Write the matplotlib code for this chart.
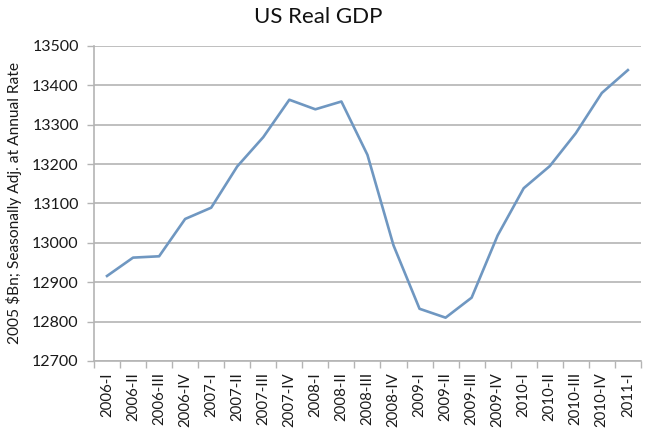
import matplotlib
matplotlib.use('Agg')
import matplotlib.pyplot as plt
import numpy as np

# US real GDP, 2005 $bn, seasonally adjusted annual rate
quarters = ['2006-I', '2006-II', '2006-III', '2006-IV',
            '2007-I', '2007-II', '2007-III', '2007-IV',
            '2008-I', '2008-II', '2008-III', '2008-IV',
            '2009-I', '2009-II', '2009-III', '2009-IV',
            '2010-I', '2010-II', '2010-III', '2010-IV',
            '2011-I']
gdp = [12915.9, 12962.5, 12965.9, 13060.7,
       13089.3, 13194.1, 13268.5, 13363.5,
       13339.2, 13359.0, 13223.5, 12993.7,
       12832.6, 12810.0, 12860.8, 13019.0,
       13138.8, 13194.9, 13278.5, 13380.7,
       13438.8]
y_ticks = [12700, 12800, 12900, 13000, 13100, 13200, 13300, 13400, 13500]

plt.rcParams['font.family'] = ['Lato', 'DejaVu Sans']

LINE = '#6f97c1'
GRID = '#b4b4b4'

fig = plt.figure(figsize=(6.5, 4.44), dpi=100)
ax = fig.add_axes([0.1446, 0.187, 0.8414, 0.7094])

x = np.arange(len(quarters))
ax.plot(x, gdp, color=LINE, lw=1.9, solid_joinstyle='round')

ax.set_xlim(-0.5, len(quarters) - 0.5)
ax.set_ylim(y_ticks[0], y_ticks[-1])
ax.set_yticks(y_ticks)
ax.set_yticklabels([str(t) for t in y_ticks], fontsize=11.5, color='#1a1a1a')

# category labels at the points, tick marks between categories (Excel style)
ax.set_xticks(x)
ax.set_xticklabels(quarters, rotation=90, fontsize=10.8, color='#1a1a1a')
ax.tick_params(axis='x', which='major', length=0, pad=8)
ax.set_xticks(np.arange(-0.5, len(quarters), 1.0), minor=True)
ax.tick_params(axis='x', which='minor', length=5, width=1.0, color=GRID,
               direction='out')
ax.tick_params(axis='y', length=5, width=1.0, color=GRID, pad=6)

ax.grid(axis='y', color=GRID, lw=1.2)
ax.set_axisbelow(True)
for side in ['top', 'right']:
    ax.spines[side].set_visible(False)
for side in ['left', 'bottom']:
    ax.spines[side].set_color(GRID)
    ax.spines[side].set_linewidth(1.2)

ax.set_ylabel('2005 $Bn; Seasonally Adj. at Annual Rate', fontsize=11.2,
              color='#1a1a1a', labelpad=7)
fig.text(0.49, 0.962, 'US Real GDP', ha='center', va='center', fontsize=16,
         color='#111111')

fig.savefig('out.png', dpi=100)
